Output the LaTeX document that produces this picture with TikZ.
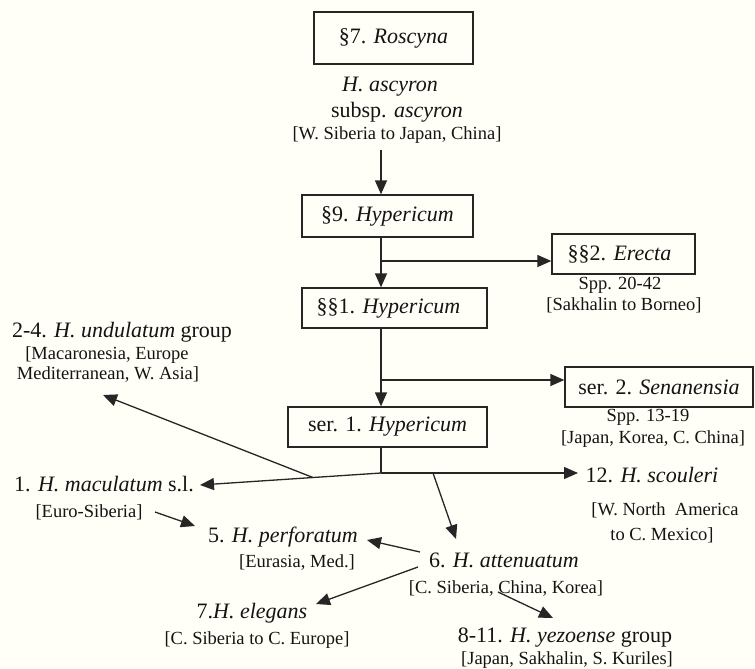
\documentclass[tikz,border=0pt]{standalone}
\usepackage{fontspec}
\setmainfont{Liberation Serif}
\usetikzlibrary{arrows.meta,calc}
\begin{document}
\begin{tikzpicture}[x=1pt,y=-1pt,
  every node/.style={inner sep=0pt, text=black!92},
  mainlbl/.style={font=\fontsize{22}{24}\selectfont},
  smalllbl/.style={font=\fontsize{18.5}{20}\selectfont},
  taxbox/.style={draw=black!85, line width=1.3pt, minimum height=40pt, mainlbl},
  arr/.style={draw=black!85, line width=1.3pt, -{Triangle[length=14pt,width=12pt]}},
  ln/.style={draw=black!85, line width=1.3pt}]
\fill[white!97!yellow] (0,0) rectangle (755,669);
\useasboundingbox (0,0) rectangle (755,669);

% spine
\coordinate (spine) at (381,0);

% boxes
\node[taxbox, minimum width=159pt, minimum height=52pt] (r7) at (393.5,38) {§7. \textit{Roscyna}};
\node[mainlbl] (asc1) at (390,87) {\textit{H. ascyron}};
\node[mainlbl] (asc2) at (397,112) {subsp. \textit{ascyron}};
\node[smalllbl] (asc3) at (397,135) {[W. Siberia to Japan, China]};

\node[taxbox, minimum width=171pt, minimum height=42pt] (s9) at (387.5,216) {§9. \textit{Hypericum}};
\node[taxbox, minimum width=143pt] (ss2) at (623.5,254) {\hspace*{-8pt}§§2. \textit{Erecta}};
\node[smalllbl] (ss2a) at (620,285) {Spp. 20-42};
\node[smalllbl] (ss2b) at (624,305) {[Sakhalin to Borneo]};

\node[taxbox, minimum width=185pt] (ss1) at (394.5,308) {\hspace*{-12pt}§§1. \textit{Hypericum}};

\node[taxbox, minimum width=188pt] (sen) at (659,387) {ser. 2. \textit{Senanensia}};
\node[smalllbl] (sena) at (648,417) {Spp. 13-19};
\node[smalllbl] (senb) at (653,439) {[Japan, Korea, C. China]};

\node[taxbox, minimum width=199pt] (ser1) at (387.5,427) {ser. 1. \textit{Hypericum}};

% species
\node[mainlbl] (und1) at (122,332) {2-4. \textit{H. undulatum} group};
\node[smalllbl] (und2) at (107,355) {[Macaronesia, Europe};
\node[smalllbl] (und3) at (108,375) {Mediterranean, W. Asia]};

\node[mainlbl] (mac1) at (104,484) {1. \textit{H. maculatum} s.l.};
\node[smalllbl] (mac2) at (89,512) {[Euro-Siberia]};

\node[mainlbl] (perf1) at (283,537) {5. \textit{H. perforatum}};
\node[smalllbl] (perf2) at (297,562) {[Eurasia, Med.]};

\node[mainlbl] (att1) at (504,560) {6. \textit{H. attenuatum}};
\node[smalllbl] (att2) at (506,588) {[C. Siberia, China, Korea]};

\node[mainlbl] (eleg1) at (252,613) {7.\textit{H. elegans}};
\node[smalllbl] (eleg2) at (257,640) {[C. Siberia to C. Europe]};

\node[mainlbl] (yez1) at (565,638) {8-11. \textit{H. yezoense} group};
\node[smalllbl] (yez2) at (567,660) {[Japan, Sakhalin, S. Kuriles]};

\node[mainlbl] (sco1) at (652,475) {12. \textit{H. scouleri}};
\node[smalllbl] (sco2) at (665,510) {[W. North\ \ America};
\node[smalllbl] (sco3) at (662,535) {to C. Mexico]};

% connector coordinates
\coordinate (b1) at (0,261);
\coordinate (b2) at (0,380);
\coordinate (j) at (381,473);
\coordinate (mtip) at (200,485);
\coordinate (ustart) at ($(j)!0.376!(mtip)$);
\coordinate (utip) at (103,395);
\coordinate (stip) at (578,473);
\coordinate (abr) at (433,473);
\coordinate (atip) at (456,539);
\coordinate (mps) at (155,512);
\coordinate (mpt) at (195,526);
\coordinate (aps) at (420,552);
\coordinate (apt) at (367,540);
\coordinate (aes) at (418,567);
\coordinate (aet) at (316,604);
\coordinate (ays) at (498,592);
\coordinate (ayt) at (553,618);

% spine arrows
\draw[arr] ([yshift=-6pt]asc3.south -| spine) -- (s9.north -| spine);
\draw[arr] (s9.south -| spine) -- (ss1.north -| spine);
\draw[arr] (spine |- b1) -- (ss2.west |- b1);
\draw[arr] (ss1.south -| spine) -- (ser1.north -| spine);
\draw[arr] (spine |- b2) -- (sen.west |- b2);
\draw[ln] (ser1.south -| spine) -- (j);

% branches
\draw[arr] (j) -- (mtip);
\draw[arr] (ustart) -- (utip);
\draw[arr] (j) -- (stip);
\draw[arr] (abr) -- (atip);
\draw[arr] (mps) -- (mpt);
\draw[arr] (aps) -- (apt);
\draw[arr] (aes) -- (aet);
\draw[arr] (ays) -- (ayt);
\end{tikzpicture}
\end{document}
